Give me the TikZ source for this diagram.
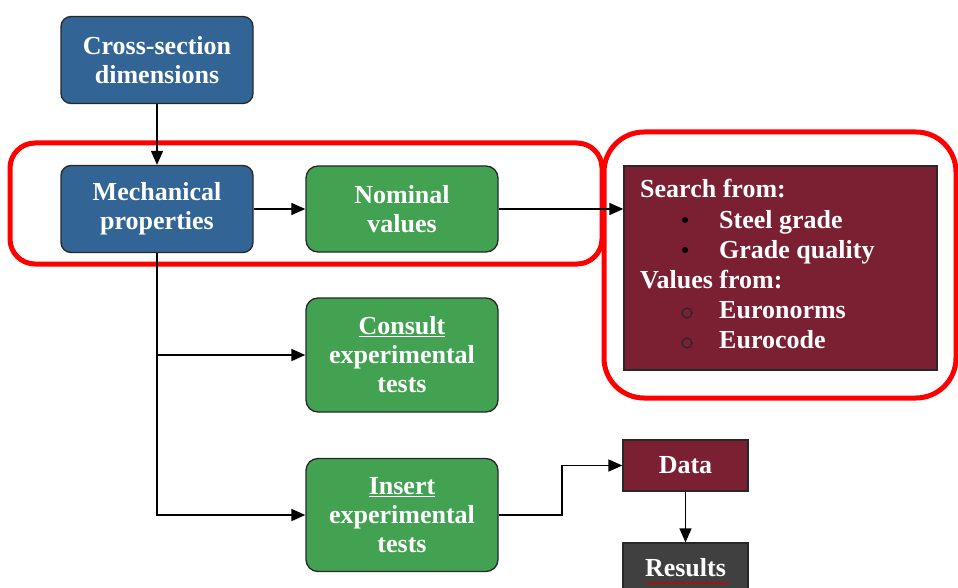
\documentclass[tikz,border=0pt]{standalone}
\usepackage{fontspec}
\setmainfont{Liberation Serif}
\usetikzlibrary{arrows.meta,decorations.pathmorphing}
\definecolor{boxblue}{RGB}{50,101,150}
\definecolor{boxgreen}{RGB}{67,162,82}
\definecolor{boxmaroon}{RGB}{123,31,51}
\definecolor{boxgray}{RGB}{64,64,64}
\definecolor{edge}{RGB}{40,40,40}
\tikzset{
  basebox/.style={draw=edge, line width=1.3pt, text=white, align=center,
    font=\bfseries\fontsize{26}{29}\selectfont, inner sep=0pt},
  bluebox/.style={basebox, fill=boxblue, rounded corners=10pt,
    minimum width=192pt, minimum height=87pt},
  greenbox/.style={basebox, fill=boxgreen, rounded corners=12pt,
    minimum width=192pt},
  flatbox/.style={basebox, minimum width=125pt},
  listtext/.style={anchor=base west, text=white, inner sep=0pt,
    font=\bfseries\fontsize{26}{29}\selectfont},
  frame/.style={draw=red, line width=5pt},
  conn/.style={draw=black, line width=1.5pt, -{Stealth[inset=0pt,length=14pt,width=12pt]}},
  wire/.style={draw=black, line width=1.5pt}
}
\begin{document}
\begin{tikzpicture}[x=1pt,y=-1pt]
\useasboundingbox (0,0) rectangle (958,588);
\clip (0,0) rectangle (958,588);

% highlight frames
\draw[frame, rounded corners=25pt] (10,143) rectangle (602,264);
\draw[frame, rounded corners=40pt] (604,132) rectangle (956,398);

% main flow boxes
\node[bluebox] (cross) at (157,60) {Cross-section\\dimensions};
\node[bluebox] (mech) at (157,209) {Mechanical\\properties};
\node[greenbox, minimum height=86pt] (nominal) at (402,209) {Nominal\\values};
\node[greenbox, minimum height=114pt] (consult) at (402,355) {\underline{Consult}\\experimental\\tests};
\node[greenbox, minimum height=113pt] (insert) at (402,515) {\underline{Insert}\\experimental\\tests};

% source box for nominal values
\node[draw=edge, line width=1.3pt, fill=boxmaroon, minimum width=313pt,
      minimum height=204pt, inner sep=0pt] (source) at (780.5,268) {};
\node[listtext] (s1) at (640,198) {Search from:};
\node[listtext] (s2) at (719,228) {Steel grade};
\node[listtext] (s3) at (719,258) {Grade quality};
\node[listtext] (s4) at (640,288) {Values from:};
\node[listtext] (s5) at (719,318) {Euronorms};
\node[listtext] (s6) at (719,348) {Eurocode};
\fill[black] (685,220) circle (3pt);
\fill[black] (685,250) circle (3pt);
\draw[black!85, line width=1.2pt] (687,313) circle (5pt);
\draw[black!85, line width=1.2pt] (687,343) circle (5pt);

% output boxes
\node[flatbox, fill=boxmaroon, minimum height=51pt] (data) at (685.5,465.5) {Data};
\node[flatbox, fill=boxgray, minimum height=50pt] (results) at (685.5,568) {Results};
\draw[red!80!black, line width=1pt, decorate,
      decoration={snake, segment length=4pt, amplitude=0.8pt}] (646,583) -- (729,583);

% connectors
\draw[conn] (cross.south) -- (mech.north);
\draw[conn] (mech.east) -- (nominal.west);
\draw[conn] (nominal.east) -- (source.west |- nominal.east);
\coordinate (split) at (mech.south |- consult.west);
\draw[wire] (mech.south) -- (split);
\draw[conn] (split) -- (consult.west);
\draw[conn] (split) |- (insert.west);
\coordinate (bend) at (562,515);
\draw[conn] (insert.east) -- (bend) |- (data.west);
\draw[conn] (data.south) -- (results.north);
\end{tikzpicture}
\end{document}
